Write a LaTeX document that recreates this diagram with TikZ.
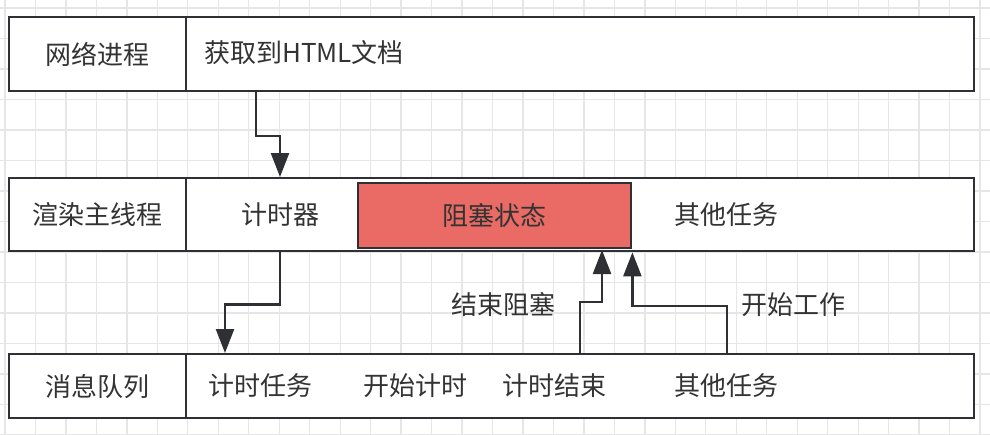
\documentclass[tikz,border=0pt]{standalone}
\usepackage{fontspec}
\setmainfont{Noto Sans CJK SC}
\usetikzlibrary{arrows.meta}
\usetikzlibrary{calc}
\definecolor{linegray}{HTML}{2E3033}
\definecolor{textgray}{HTML}{333333}
\definecolor{blockred}{HTML}{EA6B66}
\definecolor{gridgray}{HTML}{E6E6E6}

\begin{document}
\begin{tikzpicture}[x=1pt,y=-1pt]
    \tikzstyle{gridline}=[draw=gridgray,line width=1.3pt]
    \tikzstyle{cell}=[draw=linegray,line width=2.4pt,rectangle,inner sep=0pt,anchor=north west,fill=white]
    \tikzstyle{lbl}=[text=textgray,font=\fontsize{26}{30}\selectfont,inner sep=0pt]
    \tikzstyle{flow}=[draw=linegray,line width=2.4pt,-{Triangle[length=24pt,width=18pt]}]
    \useasboundingbox (0,0) rectangle (990,434);
    \fill[white] (0,0) rectangle (990,434);
    \foreach \i in {0,...,32} \draw[gridline] (5+30.47*\i,0) -- (5+30.47*\i,434);
    \foreach \j in {0,...,14} \draw[gridline] (0,8+30.5*\j) -- (990,8+30.5*\j);
    % rows
    \node[cell,minimum width=177pt,minimum height=74pt,lbl] (netlbl) at (8,16) {网络进程};
    \node[cell,minimum width=788pt,minimum height=74pt] (netbody) at (185,16) {};
    \node[cell,minimum width=177pt,minimum height=73pt,lbl] (mainlbl) at (8,177) {渲染主线程};
    \node[cell,minimum width=788pt,minimum height=73pt] (mainbody) at (185,177) {};
    \node[cell,minimum width=177pt,minimum height=64pt,lbl] (queuelbl) at (8,353) {消息队列};
    \node[cell,minimum width=788pt,minimum height=64pt] (queuebody) at (185,353) {};
    \node[cell,fill=blockred,minimum width=273pt,minimum height=65pt,lbl] (block) at (357,182) {阻塞状态};
    % texts
    \node[lbl,anchor=west] (html) at (204,53) {获取到HTML文档};
    \node[lbl] (timer) at (280,215) {计时器};
    \node[lbl] (mainother) at (726,215) {其他任务};
    \node[lbl] (timetask) at (260,386) {计时任务};
    \node[lbl] (startcount) at (415,386) {开始计时};
    \node[lbl] (endcount) at (554,386) {计时结束};
    \node[lbl] (queueother) at (726,386) {其他任务};
    \node[lbl] (endblock) at (503,305) {结束阻塞};
    \node[lbl] (startwork) at (793,305) {开始工作};
    % connectors
    \coordinate (fetchout) at (256,90);
    \coordinate (taskin) at (225,353);
    \coordinate (endout) at (580,353);
    \coordinate (endin) at (602,250);
    \coordinate (workout) at (727,353);
    \draw[flow] (fetchout) -- ++(0,46) -| (timer |- mainbody.north);
    \draw[flow] (timer |- mainbody.south) -- ++(0,52) -| (taskin);
    \draw[flow] (endout) -- ++(0,-51) -| (endin);
    \draw[flow] (workout) -- ++(0,-47) -| (block.south east |- mainbody.south);
\end{tikzpicture}
\end{document}
